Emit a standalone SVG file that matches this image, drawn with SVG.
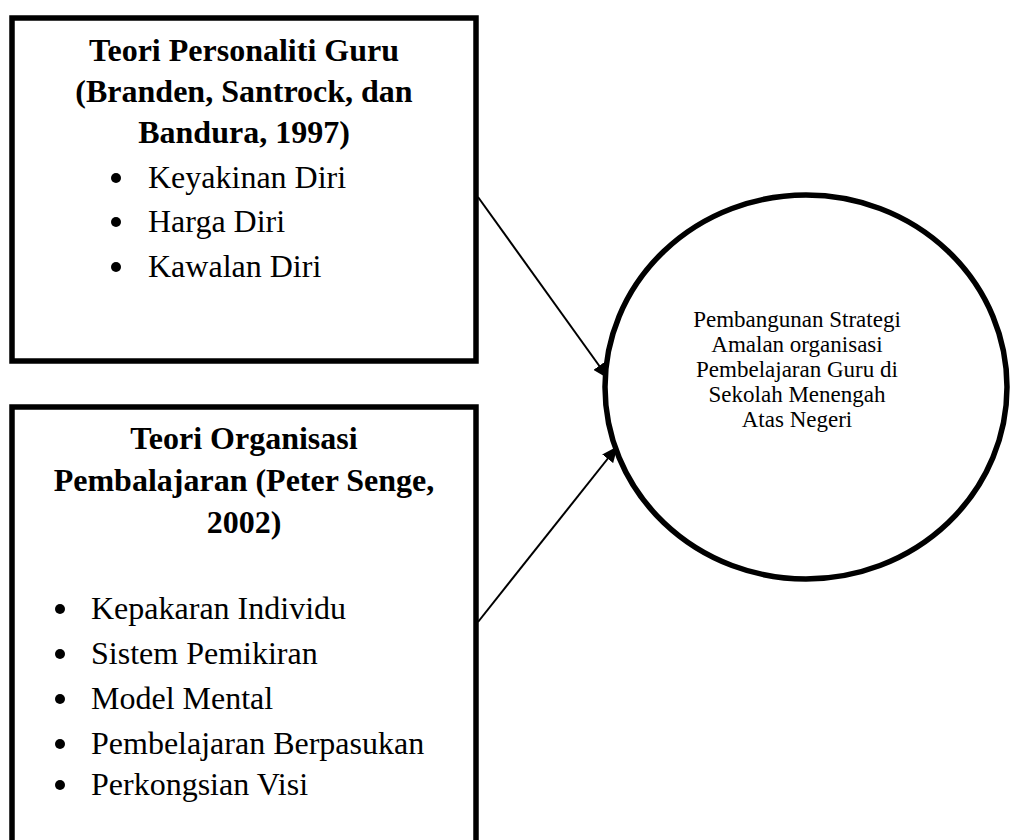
<svg xmlns="http://www.w3.org/2000/svg" width="1010" height="840" viewBox="0 0 1010 840">
<style>
.box{fill:#fff;stroke:#000;stroke-width:5.5}
.t{font-family:"Liberation Serif","Times New Roman",serif;fill:#000}
.h{font-size:32px;font-weight:bold;text-anchor:middle}
.li{font-size:32px}
.c{font-size:23px;text-anchor:middle}
.conn{stroke:#000;stroke-width:2;fill:none}
</style>
<defs>
<marker id="ah2" viewBox="0 0 16 14" refX="15" refY="7" markerWidth="16" markerHeight="14" markerUnits="userSpaceOnUse" orient="auto">
<path d="M0,0 L16,7 L0,14 z" fill="#000"/>
</marker>
</defs>
<rect width="1010" height="840" fill="#fff"/>
<g id="connectors">
<line class="conn" x1="478" y1="197" x2="608" y2="378" marker-end="url(#ah2)"/>
<line class="conn" x1="478" y1="622" x2="617" y2="447" marker-end="url(#ah2)"/>
</g>
<g id="node-personaliti">
<rect class="box" x="12" y="18" width="464" height="343"/>
<text class="t h" x="244" y="61">Teori Personaliti Guru</text>
<text class="t h" x="244" y="102">(Branden, Santrock, dan</text>
<text class="t h" x="244" y="143">Bandura, 1997)</text>
<circle cx="116" cy="178" r="5"/>
<circle cx="116" cy="222" r="5"/>
<circle cx="116" cy="267" r="5"/>
<text class="t li" x="148" y="188">Keyakinan Diri</text>
<text class="t li" x="148" y="232">Harga Diri</text>
<text class="t li" x="148" y="277">Kawalan Diri</text>
</g>
<g id="node-organisasi">
<rect class="box" x="12" y="407" width="464" height="460"/>
<text class="t h" x="244" y="449">Teori Organisasi</text>
<text class="t h" x="244" y="491">Pembalajaran (Peter Senge,</text>
<text class="t h" x="244" y="533">2002)</text>
<circle cx="60" cy="609" r="5"/>
<circle cx="60" cy="654" r="5"/>
<circle cx="60" cy="699" r="5"/>
<circle cx="60" cy="744" r="5"/>
<circle cx="60" cy="785" r="5"/>
<text class="t li" x="91" y="619">Kepakaran Individu</text>
<text class="t li" x="91" y="664">Sistem Pemikiran</text>
<text class="t li" x="91" y="709">Model Mental</text>
<text class="t li" x="91" y="754">Pembelajaran Berpasukan</text>
<text class="t li" x="91" y="795">Perkongsian Visi</text>
</g>
<g id="node-pembangunan">
<ellipse class="box" cx="806" cy="387" rx="201" ry="192"/>
<text class="t c" x="797" y="327">Pembangunan Strategi</text>
<text class="t c" x="797" y="352">Amalan organisasi</text>
<text class="t c" x="797" y="377">Pembelajaran Guru di</text>
<text class="t c" x="797" y="402">Sekolah Menengah</text>
<text class="t c" x="797" y="427">Atas Negeri</text>
</g>
</svg>
